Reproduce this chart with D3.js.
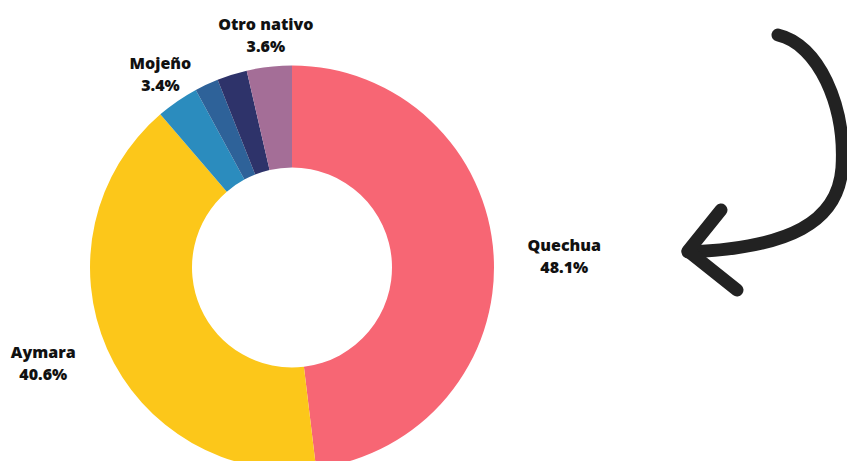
<!DOCTYPE html>
<html>
<head>
<meta charset="utf-8">
<script src="https://cdn.jsdelivr.net/npm/d3@7"></script>
<style>
  html, body { margin: 0; padding: 0; background: #ffffff; }
  svg { display: block; }
  .lbl { font-family: "Open Sans", "Noto Sans", sans-serif; font-weight: 800; font-size: 16px; fill: #111; }
</style>
</head>
<body>
<svg id="chart" width="847" height="461"></svg>
<script>
// Lenguas nativas: share of speakers by language
const categories = ["Quechua", "Aymara", "Mojeño", "Otro A", "Otro B", "Otro nativo"];
const values     = [48.1, 40.6, 3.4, 1.9, 2.4, 3.6];
const labels     = ["Quechua", "Aymara", "Mojeño", null, null, "Otro nativo"];
const colors     = ["#F76674", "#FCC71A", "#2B8CBE", "#2E6299", "#2E336A", "#A46E97"];

const W = 847, H = 461;
const cx = 292, cy = 267.5;
const outerR = 202, innerR = 100, labelR = 232;

const svg = d3.select("#chart");
const g = svg.append("g").attr("transform", `translate(${cx},${cy})`);

const data = categories.map((c, i) => ({ name: c, value: values[i], label: labels[i], color: colors[i] }));

const pie = d3.pie().value(d => d.value).sort(null);
const arc = d3.arc().innerRadius(innerR).outerRadius(outerR);
const labelArc = d3.arc().innerRadius(labelR).outerRadius(labelR);

const arcs = pie(data);

g.selectAll("path.slice")
  .data(arcs)
  .join("path")
  .attr("class", "slice")
  .attr("d", arc)
  .attr("fill", d => d.data.color);

// Two-line labels (name + percent), centred blocks placed just outside the ring
const fmt = d3.format(".1f");
const lab = g.selectAll("g.lab")
  .data(arcs.filter(d => d.data.label))
  .join("g")
  .attr("class", "lab");

lab.each(function(d) {
  const [x, y] = labelArc.centroid(d);
  const mid = (d.startAngle + d.endAngle) / 2;
  const s = Math.sin(mid);
  const side = Math.abs(s) < 0.7 ? 0 : Math.sign(s);
  const t = d3.select(this).append("text")
    .attr("class", "lbl")
    .attr("text-anchor", "middle");
  const yShift = side === 0 ? 0 : 4;
  const a = t.append("tspan").attr("x", 0).attr("y", yShift - 7).text(d.data.label);
  const b = t.append("tspan").attr("x", 0).attr("y", yShift + 15).text(fmt(d.data.value) + "%");
  const w = Math.max(a.node().getComputedTextLength(), b.node().getComputedTextLength());
  const dx = side * (w / 2 + 4);
  d3.select(this).attr("transform", `translate(${x + dx},${y})`);
});

// Hand-drawn curved arrow pointing at the chart
const arrow = svg.append("g")
  .attr("fill", "none")
  .attr("stroke", "#222")
  .attr("stroke-linecap", "round")
  .attr("stroke-linejoin", "round");

arrow.append("path")
  .attr("d", "M778,35 C818,44 846,105 842,168 C838,222 790,248 688,252")
  .attr("stroke-width", 13);
arrow.append("path")
  .attr("d", "M721,210 L688,251 L737,290")
  .attr("stroke-width", 13);
</script>
</body>
</html>
